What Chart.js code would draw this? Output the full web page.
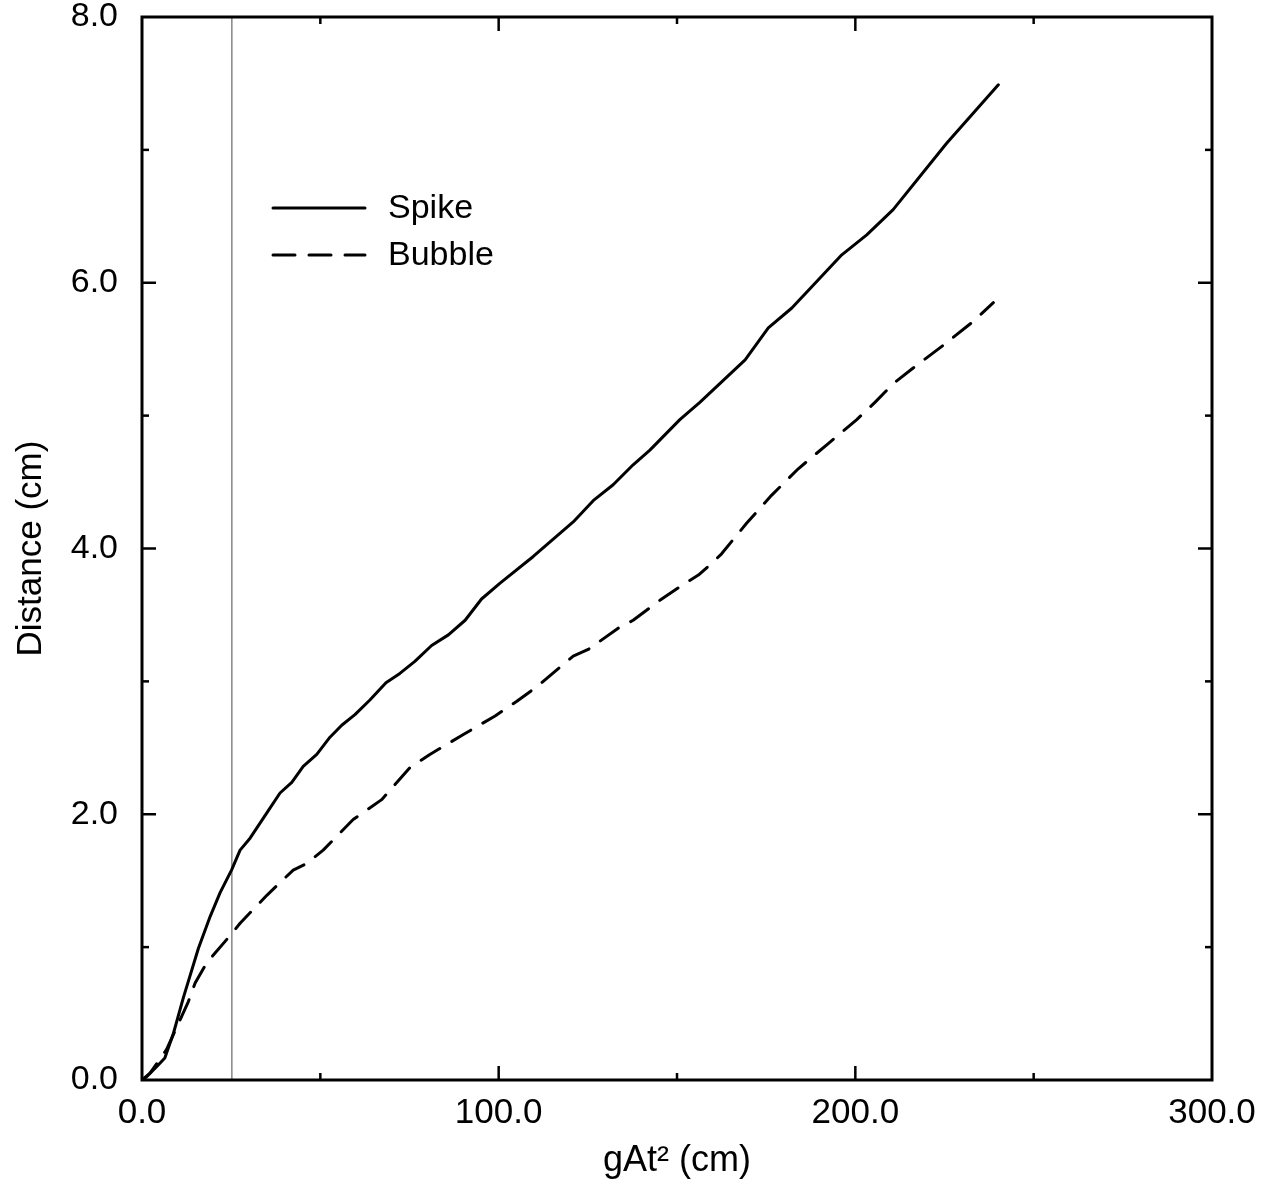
<!DOCTYPE html>
<html>
<head>
<meta charset="utf-8">
<script src="https://cdn.jsdelivr.net/npm/chart.js@4/dist/chart.umd.min.js"></script>
<style>
html,body{margin:0;padding:0;background:#fff;}
#wrap{width:1275px;height:1184px;}
</style>
</head>
<body>
<div id="wrap"><canvas id="c" width="1275" height="1184"></canvas></div>
<script>
const spikeX = [0, 1.3, 4.1, 6.4, 8.8, 11.6, 15.8, 19.1, 21.9, 25.1, 27.5, 30.3, 35.0, 38.7, 42.0, 45.2, 49.0, 52.7, 56.0, 59.7, 63.9, 68.4, 72.3, 76.5, 81.2, 85.9, 90.6, 95.2, 100.4, 109.7, 120.9, 126.5, 132.1, 137.7, 142.4, 150.8, 156.4, 169.1, 175.6, 182.2, 196.2, 203.2, 210.6, 225.6, 240.1];
const spikeY = [0, 0.025, 0.10, 0.165, 0.35, 0.62, 0.99, 1.23, 1.41, 1.58, 1.73, 1.82, 2.01, 2.16, 2.24, 2.36, 2.45, 2.58, 2.67, 2.75, 2.86, 2.99, 3.06, 3.15, 3.27, 3.35, 3.46, 3.62, 3.74, 3.94, 4.20, 4.36, 4.48, 4.63, 4.74, 4.97, 5.10, 5.42, 5.66, 5.81, 6.21, 6.36, 6.55, 7.05, 7.49];
const bubbleX = [0, 2.2, 6.9, 13.0, 14.9, 18.1, 25.1, 27.5, 35.0, 42.4, 46.2, 50.8, 59.2, 67.2, 75.1, 80.7, 90.1, 99.0, 105.1, 110.7, 120.9, 125.1, 133.5, 137.7, 145.2, 151.8, 156.0, 160.2, 162.5, 169.5, 176.5, 184.0, 192.4, 200.4, 205.5, 210.6, 216.3, 224.7, 233.1, 238.7];
const bubbleY = [0, 0.05, 0.23, 0.59, 0.73, 0.88, 1.10, 1.18, 1.39, 1.58, 1.63, 1.73, 1.96, 2.11, 2.35, 2.45, 2.60, 2.74, 2.85, 2.96, 3.19, 3.24, 3.40, 3.46, 3.61, 3.73, 3.80, 3.90, 3.96, 4.19, 4.40, 4.60, 4.79, 4.97, 5.10, 5.24, 5.36, 5.53, 5.71, 5.85];
const markerX = [25.2, 25.2];
const markerY = [0, 8];
const seriesNames = ['Spike', 'Bubble'];
const xTickValues = [0, 100, 200, 300];
const yTickValues = [0, 2, 4, 6, 8];
const xMinorValues = [50, 150, 250];
const yMinorValues = [1, 3, 5, 7];
const xTitle = 'gAt\u00B2 (cm)';
const yTitle = 'Distance (cm)';

const toPts = (xs, ys) => xs.map((x, i) => ({x: x, y: ys[i]}));
const FONT = "'Liberation Sans', Arial, sans-serif";

const framePlugin = {
  id: 'frame',
  afterDatasetsDraw(chart) {
    const ctx = chart.ctx, a = chart.chartArea;
    const xs = chart.scales.x, ys = chart.scales.y;
    ctx.save();
    ctx.strokeStyle = '#000';
    ctx.lineCap = 'butt';
    ctx.lineWidth = 3;
    ctx.strokeRect(a.left, a.top, a.right - a.left, a.bottom - a.top);
    const major = 14, minor = 7;
    ctx.lineWidth = 2.5;
    const drawX = (v, len) => {
      const p = xs.getPixelForValue(v);
      ctx.beginPath(); ctx.moveTo(p, a.bottom); ctx.lineTo(p, a.bottom - len); ctx.stroke();
      ctx.beginPath(); ctx.moveTo(p, a.top); ctx.lineTo(p, a.top + len); ctx.stroke();
    };
    const drawY = (v, len) => {
      const p = ys.getPixelForValue(v);
      ctx.beginPath(); ctx.moveTo(a.left, p); ctx.lineTo(a.left + len, p); ctx.stroke();
      ctx.beginPath(); ctx.moveTo(a.right, p); ctx.lineTo(a.right - len, p); ctx.stroke();
    };
    xTickValues.slice(1, -1).forEach(v => drawX(v, major));
    xMinorValues.forEach(v => drawX(v, minor));
    yTickValues.slice(1, -1).forEach(v => drawY(v, major));
    yMinorValues.forEach(v => drawY(v, minor));

    // legend
    ctx.font = '34px ' + FONT;
    ctx.fillStyle = '#000';
    ctx.textBaseline = 'middle';
    ctx.textAlign = 'left';
    const lx0 = 273, lx1 = 365, tx = 388;
    const rows = [208, 255];
    [0, 1].forEach(i => {
      const ds = chart.data.datasets[i];
      ctx.save();
      ctx.lineWidth = ds.borderWidth;
      ctx.strokeStyle = ds.borderColor;
      ctx.lineCap = ds.borderCapStyle || 'butt';
      ctx.setLineDash(i === 1 ? [22, 14] : []);
      ctx.beginPath(); ctx.moveTo(lx0, rows[i]); ctx.lineTo(lx1, rows[i]); ctx.stroke();
      ctx.restore();
      ctx.fillText(ds.label, tx, rows[i] + 1);
    });
    ctx.restore();
  }
};

new Chart(document.getElementById('c'), {
  type: 'line',
  data: {
    datasets: [
      {label: seriesNames[0], data: toPts(spikeX, spikeY), borderColor: '#000', borderWidth: 3, pointRadius: 0, tension: 0, fill: false, borderCapStyle: 'round', borderJoinStyle: 'round'},
      {label: seriesNames[1], data: toPts(bubbleX, bubbleY), borderColor: '#000', borderWidth: 3, pointRadius: 0, tension: 0, fill: false, borderDash: [22, 14], borderCapStyle: 'round', borderJoinStyle: 'round'},
      {label: 'marker', data: toPts(markerX, markerY), borderColor: '#666', borderWidth: 1.2, pointRadius: 0, fill: false}
    ]
  },
  options: {
    responsive: false,
    animation: false,
    devicePixelRatio: 1,
    layout: {padding: {top: 17, right: 63, left: 0, bottom: 0}},
    plugins: {legend: {display: false}, tooltip: {enabled: false}},
    scales: {
      x: {
        type: 'linear', min: 0, max: 300,
        grid: {display: false, drawTicks: false},
        border: {display: false},
        afterFit: s => { s.height = 104; s.paddingLeft = 0; s.paddingRight = 0; },
        afterBuildTicks: s => { s.ticks = xTickValues.map(v => ({value: v})); },
        ticks: {padding: 12, color: '#000', font: {family: FONT, size: 35}, maxRotation: 0, callback: v => Number(v).toFixed(1)},
        title: {display: true, text: xTitle, color: '#000', font: {family: FONT, size: 36}, padding: {top: 0, bottom: 1}}
      },
      y: {
        type: 'linear', min: 0, max: 8,
        grid: {display: false, drawTicks: false},
        border: {display: false},
        afterFit: s => { s.width = 142; s.paddingTop = 0; s.paddingBottom = 0; },
        afterBuildTicks: s => { s.ticks = yTickValues.map(v => ({value: v})); },
        ticks: {padding: 24, color: '#000', font: {family: FONT, size: 34}, callback: v => Number(v).toFixed(1)},
        title: {display: true, text: yTitle, color: '#000', font: {family: FONT, size: 35}, padding: {top: 10, bottom: 0}}
      }
    }
  },
  plugins: [framePlugin]
});
</script>
</body>
</html>
